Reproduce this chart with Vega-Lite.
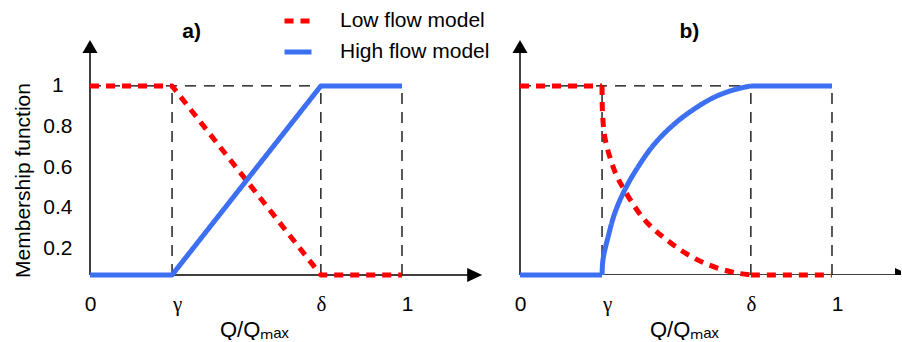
{
  "$schema": "https://vega.github.io/schema/vega-lite/v6.json",
  "padding": {"left": 12, "top": 5, "right": 0, "bottom": 0},
  "config": {"font": "Liberation Sans", "view": {"stroke": null}, "axisX": {"labelFlush": false}},
  "datasets": {
    "guides": [{"gx": 0.263}, {"gx": 0.74}, {"gx": 1}],
    "lines": [
      {"panel": "a", "series": "Low flow model", "seg": "s", "x": 0, "y": 1},
      {"panel": "a", "series": "Low flow model", "seg": "s", "x": 0.263, "y": 1},
      {"panel": "a", "series": "Low flow model", "seg": "s", "x": 0.74, "y": 0.068},
      {"panel": "a", "series": "Low flow model", "seg": "s", "x": 1, "y": 0.068},
      {"panel": "a", "series": "High flow model", "seg": "s", "x": 0, "y": 0.068},
      {"panel": "a", "series": "High flow model", "seg": "s", "x": 0.263, "y": 0.068},
      {"panel": "a", "series": "High flow model", "seg": "s", "x": 0.74, "y": 1},
      {"panel": "a", "series": "High flow model", "seg": "s", "x": 1, "y": 1},

      {"panel": "b", "series": "Low flow model", "seg": "f1", "x": 0, "y": 1},
      {"panel": "b", "series": "Low flow model", "seg": "f1", "x": 0.263, "y": 1},
      {"panel": "b", "series": "Low flow model", "seg": "c", "x": 0.263, "y": 1},
      {"panel": "b", "series": "Low flow model", "seg": "c", "x": 0.2644, "y": 0.8695},
      {"panel": "b", "series": "Low flow model", "seg": "c", "x": 0.2716, "y": 0.7493},
      {"panel": "b", "series": "Low flow model", "seg": "c", "x": 0.2878, "y": 0.6505},
      {"panel": "b", "series": "Low flow model", "seg": "c", "x": 0.3088, "y": 0.5601},
      {"panel": "b", "series": "Low flow model", "seg": "c", "x": 0.3336, "y": 0.4893},
      {"panel": "b", "series": "Low flow model", "seg": "c", "x": 0.3679, "y": 0.4044},
      {"panel": "b", "series": "Low flow model", "seg": "c", "x": 0.3999, "y": 0.3383},
      {"panel": "b", "series": "Low flow model", "seg": "c", "x": 0.4319, "y": 0.2898},
      {"panel": "b", "series": "Low flow model", "seg": "c", "x": 0.4643, "y": 0.2488},
      {"panel": "b", "series": "Low flow model", "seg": "c", "x": 0.5067, "y": 0.1994},
      {"panel": "b", "series": "Low flow model", "seg": "c", "x": 0.5497, "y": 0.1584},
      {"panel": "b", "series": "Low flow model", "seg": "c", "x": 0.5926, "y": 0.1258},
      {"panel": "b", "series": "Low flow model", "seg": "c", "x": 0.646, "y": 0.096},
      {"panel": "b", "series": "Low flow model", "seg": "c", "x": 0.6995, "y": 0.0764},
      {"panel": "b", "series": "Low flow model", "seg": "c", "x": 0.74, "y": 0.068},
      {"panel": "b", "series": "Low flow model", "seg": "f2", "x": 0.74, "y": 0.068},
      {"panel": "b", "series": "Low flow model", "seg": "f2", "x": 1, "y": 0.068},

      {"panel": "b", "series": "High flow model", "seg": "f1", "x": 0, "y": 0.068},
      {"panel": "b", "series": "High flow model", "seg": "f1", "x": 0.263, "y": 0.068},
      {"panel": "b", "series": "High flow model", "seg": "c", "x": 0.263, "y": 0.068},
      {"panel": "b", "series": "High flow model", "seg": "c", "x": 0.2644, "y": 0.119},
      {"panel": "b", "series": "High flow model", "seg": "c", "x": 0.2678, "y": 0.1612},
      {"panel": "b", "series": "High flow model", "seg": "c", "x": 0.2821, "y": 0.2544},
      {"panel": "b", "series": "High flow model", "seg": "c", "x": 0.3035, "y": 0.3718},
      {"panel": "b", "series": "High flow model", "seg": "c", "x": 0.3355, "y": 0.4865},
      {"panel": "b", "series": "High flow model", "seg": "c", "x": 0.3784, "y": 0.6011},
      {"panel": "b", "series": "High flow model", "seg": "c", "x": 0.4319, "y": 0.7157},
      {"panel": "b", "series": "High flow model", "seg": "c", "x": 0.4963, "y": 0.8145},
      {"panel": "b", "series": "High flow model", "seg": "c", "x": 0.5602, "y": 0.8882},
      {"panel": "b", "series": "High flow model", "seg": "c", "x": 0.6246, "y": 0.946},
      {"panel": "b", "series": "High flow model", "seg": "c", "x": 0.6885, "y": 0.9823},
      {"panel": "b", "series": "High flow model", "seg": "c", "x": 0.74, "y": 1},
      {"panel": "b", "series": "High flow model", "seg": "f2", "x": 0.74, "y": 1},
      {"panel": "b", "series": "High flow model", "seg": "f2", "x": 1, "y": 1}
    ]
  },
  "bounds": "flush",
  "spacing": 30,
  "resolve": {"scale": {"x": "independent", "y": "independent", "color": "independent", "strokeDash": "independent"}},
  "hconcat": [
    {
      "width": 400,
      "height": 270,
      "layer": [
        {
          "data": {"name": "guides"},
          "mark": {"type": "rule", "color": "black", "strokeWidth": 1.3, "strokeDash": [11, 8]},
          "encoding": {
            "x": {"field": "gx", "type": "quantitative", "scale": {"domain": [0, 1.2821], "nice": false, "zero": false},
              "axis": {"values": [0, 0.263, 0.74, 1], "labelExpr": "datum.value == 0 ? '0' : datum.value == 1 ? '1' : datum.value < 0.5 ? 'γ' : 'δ'",
                "labelFont": {"condition": {"test": "datum.value > 0.1 && datum.value < 0.9", "value": "Liberation Serif"}, "value": "Liberation Sans"},
                "labelOffset": {"condition": {"test": "datum.value == 0 || (datum.value > 0.7 && datum.value < 0.8)", "value": 0}, "value": 5},
                "labelFlush": false, "labelFontSize": 21, "labelColor": "black", "labelPadding": 18, "ticks": false, "tickSize": 0, "domain": false, "grid": false,
                "title": "Q/Qₘₐₓ", "titleFontSize": 22, "titleFontWeight": "normal", "titleColor": "black", "titleX": 163.8, "titleY": 61, "titleBaseline": "alphabetic", "titleAlign": "center"}},
            "y": {"datum": 0.068, "type": "quantitative", "scale": {"domain": [0.068, 1.399], "nice": false, "zero": false},
              "axis": {"values": [0.2, 0.4, 0.6, 0.8, 1], "format": "~g", "labelAlign": "center", "labelPadding": 32.7, "labelFontSize": 21, "labelColor": "black",
                "ticks": false, "tickSize": 0, "domain": false, "grid": false,
                "title": "Membership function", "titleFontSize": 21, "titleFontWeight": "normal", "titleColor": "black", "titleX": -60.7, "titleY": 175, "titleAngle": 270, "titleBaseline": "alphabetic", "titleAlign": "center"}},
            "y2": {"datum": 1}
          }
        },
        {
          "data": {"values": [{}]},
          "mark": {"type": "rule", "color": "black", "strokeWidth": 1.3, "strokeDash": [11, 8]},
          "encoding": {
            "x": {"datum": 0, "type": "quantitative", "scale": {"domain": [0, 1.2821], "nice": false, "zero": false},
              "axis": {"values": [0, 0.263, 0.74, 1], "labelExpr": "datum.value == 0 ? '0' : datum.value == 1 ? '1' : datum.value < 0.5 ? 'γ' : 'δ'",
                "labelFont": {"condition": {"test": "datum.value > 0.1 && datum.value < 0.9", "value": "Liberation Serif"}, "value": "Liberation Sans"},
                "labelOffset": {"condition": {"test": "datum.value == 0 || (datum.value > 0.7 && datum.value < 0.8)", "value": 0}, "value": 5},
                "labelFlush": false, "labelFontSize": 21, "labelColor": "black", "labelPadding": 18, "ticks": false, "tickSize": 0, "domain": false, "grid": false,
                "title": "Q/Qₘₐₓ", "titleFontSize": 22, "titleFontWeight": "normal", "titleColor": "black", "titleX": 163.8, "titleY": 61, "titleBaseline": "alphabetic", "titleAlign": "center"}},
            "x2": {"datum": 1},
            "y": {"datum": 1, "type": "quantitative", "scale": {"domain": [0.068, 1.399], "nice": false, "zero": false},
              "axis": {"values": [0.2, 0.4, 0.6, 0.8, 1], "format": "~g", "labelAlign": "center", "labelPadding": 32.7, "labelFontSize": 21, "labelColor": "black",
                "ticks": false, "tickSize": 0, "domain": false, "grid": false,
                "title": "Membership function", "titleFontSize": 21, "titleFontWeight": "normal", "titleColor": "black", "titleX": -60.7, "titleY": 175, "titleAngle": 270, "titleBaseline": "alphabetic", "titleAlign": "center"}}
          }
        },
        {
          "data": {"values": [{}]},
          "mark": {"type": "rule", "color": "black", "strokeWidth": 1.5},
          "encoding": {
            "x": {"datum": 0, "type": "quantitative", "scale": {"domain": [0, 1.2821], "nice": false, "zero": false},
              "axis": {"values": [0, 0.263, 0.74, 1], "labelExpr": "datum.value == 0 ? '0' : datum.value == 1 ? '1' : datum.value < 0.5 ? 'γ' : 'δ'",
                "labelFont": {"condition": {"test": "datum.value > 0.1 && datum.value < 0.9", "value": "Liberation Serif"}, "value": "Liberation Sans"},
                "labelOffset": {"condition": {"test": "datum.value == 0 || (datum.value > 0.7 && datum.value < 0.8)", "value": 0}, "value": 5},
                "labelFlush": false, "labelFontSize": 21, "labelColor": "black", "labelPadding": 18, "ticks": false, "tickSize": 0, "domain": false, "grid": false,
                "title": "Q/Qₘₐₓ", "titleFontSize": 22, "titleFontWeight": "normal", "titleColor": "black", "titleX": 163.8, "titleY": 61, "titleBaseline": "alphabetic", "titleAlign": "center"}},
            "x2": {"datum": 1.233},
            "y": {"datum": 0.068, "type": "quantitative", "scale": {"domain": [0.068, 1.399], "nice": false, "zero": false},
              "axis": {"values": [0.2, 0.4, 0.6, 0.8, 1], "format": "~g", "labelAlign": "center", "labelPadding": 32.7, "labelFontSize": 21, "labelColor": "black",
                "ticks": false, "tickSize": 0, "domain": false, "grid": false,
                "title": "Membership function", "titleFontSize": 21, "titleFontWeight": "normal", "titleColor": "black", "titleX": -60.7, "titleY": 175, "titleAngle": 270, "titleBaseline": "alphabetic", "titleAlign": "center"}}
          }
        },
        {
          "data": {"values": [{}]},
          "mark": {"type": "rule", "color": "black", "strokeWidth": 1.5},
          "encoding": {
            "x": {"datum": 0, "type": "quantitative", "scale": {"domain": [0, 1.2821], "nice": false, "zero": false},
              "axis": {"values": [0, 0.263, 0.74, 1], "labelExpr": "datum.value == 0 ? '0' : datum.value == 1 ? '1' : datum.value < 0.5 ? 'γ' : 'δ'",
                "labelFont": {"condition": {"test": "datum.value > 0.1 && datum.value < 0.9", "value": "Liberation Serif"}, "value": "Liberation Sans"},
                "labelOffset": {"condition": {"test": "datum.value == 0 || (datum.value > 0.7 && datum.value < 0.8)", "value": 0}, "value": 5},
                "labelFlush": false, "labelFontSize": 21, "labelColor": "black", "labelPadding": 18, "ticks": false, "tickSize": 0, "domain": false, "grid": false,
                "title": "Q/Qₘₐₓ", "titleFontSize": 22, "titleFontWeight": "normal", "titleColor": "black", "titleX": 163.8, "titleY": 61, "titleBaseline": "alphabetic", "titleAlign": "center"}},
            "y": {"datum": 0.068, "type": "quantitative", "scale": {"domain": [0.068, 1.399], "nice": false, "zero": false},
              "axis": {"values": [0.2, 0.4, 0.6, 0.8, 1], "format": "~g", "labelAlign": "center", "labelPadding": 32.7, "labelFontSize": 21, "labelColor": "black",
                "ticks": false, "tickSize": 0, "domain": false, "grid": false,
                "title": "Membership function", "titleFontSize": 21, "titleFontWeight": "normal", "titleColor": "black", "titleX": -60.7, "titleY": 175, "titleAngle": 270, "titleBaseline": "alphabetic", "titleAlign": "center"}},
            "y2": {"datum": 1.1945}
          }
        },
        {
          "data": {"values": [{}]},
          "mark": {"type": "point", "filled": true, "color": "black", "opacity": 1, "size": 225, "strokeWidth": 0, "shape": "M1,0L-1,-0.93L-1,0.93Z"},
          "encoding": {
            "x": {"datum": 1.233, "type": "quantitative", "scale": {"domain": [0, 1.2821], "nice": false, "zero": false},
              "axis": {"values": [0, 0.263, 0.74, 1], "labelExpr": "datum.value == 0 ? '0' : datum.value == 1 ? '1' : datum.value < 0.5 ? 'γ' : 'δ'",
                "labelFont": {"condition": {"test": "datum.value > 0.1 && datum.value < 0.9", "value": "Liberation Serif"}, "value": "Liberation Sans"},
                "labelOffset": {"condition": {"test": "datum.value == 0 || (datum.value > 0.7 && datum.value < 0.8)", "value": 0}, "value": 5},
                "labelFlush": false, "labelFontSize": 21, "labelColor": "black", "labelPadding": 18, "ticks": false, "tickSize": 0, "domain": false, "grid": false,
                "title": "Q/Qₘₐₓ", "titleFontSize": 22, "titleFontWeight": "normal", "titleColor": "black", "titleX": 163.8, "titleY": 61, "titleBaseline": "alphabetic", "titleAlign": "center"}},
            "y": {"datum": 0.068, "type": "quantitative", "scale": {"domain": [0.068, 1.399], "nice": false, "zero": false},
              "axis": {"values": [0.2, 0.4, 0.6, 0.8, 1], "format": "~g", "labelAlign": "center", "labelPadding": 32.7, "labelFontSize": 21, "labelColor": "black",
                "ticks": false, "tickSize": 0, "domain": false, "grid": false,
                "title": "Membership function", "titleFontSize": 21, "titleFontWeight": "normal", "titleColor": "black", "titleX": -60.7, "titleY": 175, "titleAngle": 270, "titleBaseline": "alphabetic", "titleAlign": "center"}}
          }
        },
        {
          "data": {"values": [{}]},
          "mark": {"type": "point", "filled": true, "color": "black", "opacity": 1, "size": 225, "strokeWidth": 0, "shape": "M0,-0.87L1,0.87L-1,0.87Z"},
          "encoding": {
            "x": {"datum": 0, "type": "quantitative", "scale": {"domain": [0, 1.2821], "nice": false, "zero": false},
              "axis": {"values": [0, 0.263, 0.74, 1], "labelExpr": "datum.value == 0 ? '0' : datum.value == 1 ? '1' : datum.value < 0.5 ? 'γ' : 'δ'",
                "labelFont": {"condition": {"test": "datum.value > 0.1 && datum.value < 0.9", "value": "Liberation Serif"}, "value": "Liberation Sans"},
                "labelOffset": {"condition": {"test": "datum.value == 0 || (datum.value > 0.7 && datum.value < 0.8)", "value": 0}, "value": 5},
                "labelFlush": false, "labelFontSize": 21, "labelColor": "black", "labelPadding": 18, "ticks": false, "tickSize": 0, "domain": false, "grid": false,
                "title": "Q/Qₘₐₓ", "titleFontSize": 22, "titleFontWeight": "normal", "titleColor": "black", "titleX": 163.8, "titleY": 61, "titleBaseline": "alphabetic", "titleAlign": "center"}},
            "y": {"datum": 1.1945, "type": "quantitative", "scale": {"domain": [0.068, 1.399], "nice": false, "zero": false},
              "axis": {"values": [0.2, 0.4, 0.6, 0.8, 1], "format": "~g", "labelAlign": "center", "labelPadding": 32.7, "labelFontSize": 21, "labelColor": "black",
                "ticks": false, "tickSize": 0, "domain": false, "grid": false,
                "title": "Membership function", "titleFontSize": 21, "titleFontWeight": "normal", "titleColor": "black", "titleX": -60.7, "titleY": 175, "titleAngle": 270, "titleBaseline": "alphabetic", "titleAlign": "center"}}
          }
        },
        {
          "data": {"name": "lines"},
          "transform": [{"filter": "datum.panel == 'a' && datum.series == 'Low flow model'"}],
          "mark": {"type": "line", "strokeWidth": 5, "strokeCap": "butt", "strokeJoin": "round"},
          "encoding": {
            "x": {"field": "x", "type": "quantitative", "scale": {"domain": [0, 1.2821], "nice": false, "zero": false},
              "axis": {"values": [0, 0.263, 0.74, 1], "labelExpr": "datum.value == 0 ? '0' : datum.value == 1 ? '1' : datum.value < 0.5 ? 'γ' : 'δ'",
                "labelFont": {"condition": {"test": "datum.value > 0.1 && datum.value < 0.9", "value": "Liberation Serif"}, "value": "Liberation Sans"},
                "labelOffset": {"condition": {"test": "datum.value == 0 || (datum.value > 0.7 && datum.value < 0.8)", "value": 0}, "value": 5},
                "labelFlush": false, "labelFontSize": 21, "labelColor": "black", "labelPadding": 18, "ticks": false, "tickSize": 0, "domain": false, "grid": false,
                "title": "Q/Qₘₐₓ", "titleFontSize": 22, "titleFontWeight": "normal", "titleColor": "black", "titleX": 163.8, "titleY": 61, "titleBaseline": "alphabetic", "titleAlign": "center"}},
            "y": {"field": "y", "type": "quantitative", "scale": {"domain": [0.068, 1.399], "nice": false, "zero": false},
              "axis": {"values": [0.2, 0.4, 0.6, 0.8, 1], "format": "~g", "labelAlign": "center", "labelPadding": 32.7, "labelFontSize": 21, "labelColor": "black",
                "ticks": false, "tickSize": 0, "domain": false, "grid": false,
                "title": "Membership function", "titleFontSize": 21, "titleFontWeight": "normal", "titleColor": "black", "titleX": -60.7, "titleY": 175, "titleAngle": 270, "titleBaseline": "alphabetic", "titleAlign": "center"}},
            "color": {"field": "series", "type": "nominal", "scale": {"domain": ["Low flow model", "High flow model"], "range": ["#ff0000", "#3d6ff2"]},
              "legend": {"title": null, "orient": "none", "legendX": 192, "legendY": 0, "symbolType": "stroke", "symbolSize": 729, "symbolStrokeWidth": 5, "labelFontSize": 21, "labelColor": "black", "labelOffset": 26, "rowPadding": 5, "padding": 0, "labelLimit": 300}},
            "strokeDash": {"field": "series", "type": "nominal", "scale": {"domain": ["Low flow model", "High flow model"], "range": [[9, 7], [1, 0]]},
              "legend": {"title": null, "orient": "none", "legendX": 192, "legendY": 0, "symbolType": "stroke", "symbolSize": 729, "symbolStrokeWidth": 5, "labelFontSize": 21, "labelColor": "black", "labelOffset": 26, "rowPadding": 5, "padding": 0, "labelLimit": 300}}
          }
        },
        {
          "data": {"name": "lines"},
          "transform": [{"filter": "datum.panel == 'a' && datum.series == 'High flow model'"}],
          "mark": {"type": "line", "strokeWidth": 5, "strokeCap": "butt", "strokeJoin": "round"},
          "encoding": {
            "x": {"field": "x", "type": "quantitative", "scale": {"domain": [0, 1.2821], "nice": false, "zero": false},
              "axis": {"values": [0, 0.263, 0.74, 1], "labelExpr": "datum.value == 0 ? '0' : datum.value == 1 ? '1' : datum.value < 0.5 ? 'γ' : 'δ'",
                "labelFont": {"condition": {"test": "datum.value > 0.1 && datum.value < 0.9", "value": "Liberation Serif"}, "value": "Liberation Sans"},
                "labelOffset": {"condition": {"test": "datum.value == 0 || (datum.value > 0.7 && datum.value < 0.8)", "value": 0}, "value": 5},
                "labelFlush": false, "labelFontSize": 21, "labelColor": "black", "labelPadding": 18, "ticks": false, "tickSize": 0, "domain": false, "grid": false,
                "title": "Q/Qₘₐₓ", "titleFontSize": 22, "titleFontWeight": "normal", "titleColor": "black", "titleX": 163.8, "titleY": 61, "titleBaseline": "alphabetic", "titleAlign": "center"}},
            "y": {"field": "y", "type": "quantitative", "scale": {"domain": [0.068, 1.399], "nice": false, "zero": false},
              "axis": {"values": [0.2, 0.4, 0.6, 0.8, 1], "format": "~g", "labelAlign": "center", "labelPadding": 32.7, "labelFontSize": 21, "labelColor": "black",
                "ticks": false, "tickSize": 0, "domain": false, "grid": false,
                "title": "Membership function", "titleFontSize": 21, "titleFontWeight": "normal", "titleColor": "black", "titleX": -60.7, "titleY": 175, "titleAngle": 270, "titleBaseline": "alphabetic", "titleAlign": "center"}},
            "color": {"field": "series", "type": "nominal", "scale": {"domain": ["Low flow model", "High flow model"], "range": ["#ff0000", "#3d6ff2"]},
              "legend": {"title": null, "orient": "none", "legendX": 192, "legendY": 0, "symbolType": "stroke", "symbolSize": 729, "symbolStrokeWidth": 5, "labelFontSize": 21, "labelColor": "black", "labelOffset": 26, "rowPadding": 5, "padding": 0, "labelLimit": 300}},
            "strokeDash": {"field": "series", "type": "nominal", "scale": {"domain": ["Low flow model", "High flow model"], "range": [[9, 7], [1, 0]]},
              "legend": {"title": null, "orient": "none", "legendX": 192, "legendY": 0, "symbolType": "stroke", "symbolSize": 729, "symbolStrokeWidth": 5, "labelFontSize": 21, "labelColor": "black", "labelOffset": 26, "rowPadding": 5, "padding": 0, "labelLimit": 300}}
          }
        },
        {
          "data": {"values": [{}]},
          "mark": {"type": "text", "text": "a)", "fontSize": 21, "fontWeight": "bold", "color": "black", "align": "center", "baseline": "alphabetic"},
          "encoding": {
            "x": {"datum": 0.326, "type": "quantitative", "scale": {"domain": [0, 1.2821], "nice": false, "zero": false},
              "axis": {"values": [0, 0.263, 0.74, 1], "labelExpr": "datum.value == 0 ? '0' : datum.value == 1 ? '1' : datum.value < 0.5 ? 'γ' : 'δ'",
                "labelFont": {"condition": {"test": "datum.value > 0.1 && datum.value < 0.9", "value": "Liberation Serif"}, "value": "Liberation Sans"},
                "labelOffset": {"condition": {"test": "datum.value == 0 || (datum.value > 0.7 && datum.value < 0.8)", "value": 0}, "value": 5},
                "labelFlush": false, "labelFontSize": 21, "labelColor": "black", "labelPadding": 18, "ticks": false, "tickSize": 0, "domain": false, "grid": false,
                "title": "Q/Qₘₐₓ", "titleFontSize": 22, "titleFontWeight": "normal", "titleColor": "black", "titleX": 163.8, "titleY": 61, "titleBaseline": "alphabetic", "titleAlign": "center"}},
            "y": {"datum": 1.236, "type": "quantitative", "scale": {"domain": [0.068, 1.399], "nice": false, "zero": false},
              "axis": {"values": [0.2, 0.4, 0.6, 0.8, 1], "format": "~g", "labelAlign": "center", "labelPadding": 32.7, "labelFontSize": 21, "labelColor": "black",
                "ticks": false, "tickSize": 0, "domain": false, "grid": false,
                "title": "Membership function", "titleFontSize": 21, "titleFontWeight": "normal", "titleColor": "black", "titleX": -60.7, "titleY": 175, "titleAngle": 270, "titleBaseline": "alphabetic", "titleAlign": "center"}}
          }
        }
      ]
    },
    {
      "width": 381,
      "height": 270,
      "layer": [
        {
          "data": {"name": "guides"},
          "mark": {"type": "rule", "color": "black", "strokeWidth": 1.3, "strokeDash": [11, 8]},
          "encoding": {
            "x": {"field": "gx", "type": "quantitative", "scale": {"domain": [0, 1.2212], "nice": false, "zero": false},
              "axis": {"values": [0, 0.263, 0.74, 1], "labelExpr": "datum.value == 0 ? '0' : datum.value == 1 ? '1' : datum.value < 0.5 ? 'γ' : 'δ'",
                "labelFont": {"condition": {"test": "datum.value > 0.1 && datum.value < 0.9", "value": "Liberation Serif"}, "value": "Liberation Sans"},
                "labelOffset": {"condition": {"test": "datum.value == 0 || (datum.value > 0.7 && datum.value < 0.8)", "value": 0}, "value": 5},
                "labelFlush": false, "labelFontSize": 21, "labelColor": "black", "labelPadding": 18, "ticks": false, "tickSize": 0, "domain": false, "grid": false,
                "title": "Q/Qₘₐₓ", "titleFontSize": 22, "titleFontWeight": "normal", "titleColor": "black", "titleX": 163.8, "titleY": 61, "titleBaseline": "alphabetic", "titleAlign": "center"}},
            "y": {"datum": 0.068, "type": "quantitative", "scale": {"domain": [0.068, 1.399], "nice": false, "zero": false}, "axis": null},
            "y2": {"datum": 1}
          }
        },
        {
          "data": {"values": [{}]},
          "mark": {"type": "rule", "color": "black", "strokeWidth": 1.3, "strokeDash": [11, 8]},
          "encoding": {
            "x": {"datum": 0, "type": "quantitative", "scale": {"domain": [0, 1.2212], "nice": false, "zero": false},
              "axis": {"values": [0, 0.263, 0.74, 1], "labelExpr": "datum.value == 0 ? '0' : datum.value == 1 ? '1' : datum.value < 0.5 ? 'γ' : 'δ'",
                "labelFont": {"condition": {"test": "datum.value > 0.1 && datum.value < 0.9", "value": "Liberation Serif"}, "value": "Liberation Sans"},
                "labelOffset": {"condition": {"test": "datum.value == 0 || (datum.value > 0.7 && datum.value < 0.8)", "value": 0}, "value": 5},
                "labelFlush": false, "labelFontSize": 21, "labelColor": "black", "labelPadding": 18, "ticks": false, "tickSize": 0, "domain": false, "grid": false,
                "title": "Q/Qₘₐₓ", "titleFontSize": 22, "titleFontWeight": "normal", "titleColor": "black", "titleX": 163.8, "titleY": 61, "titleBaseline": "alphabetic", "titleAlign": "center"}},
            "x2": {"datum": 1},
            "y": {"datum": 1, "type": "quantitative", "scale": {"domain": [0.068, 1.399], "nice": false, "zero": false}, "axis": null}
          }
        },
        {
          "data": {"values": [{}]},
          "mark": {"type": "rule", "color": "black", "strokeWidth": 1.5, "clip": true},
          "encoding": {
            "x": {"datum": 0, "type": "quantitative", "scale": {"domain": [0, 1.2212], "nice": false, "zero": false},
              "axis": {"values": [0, 0.263, 0.74, 1], "labelExpr": "datum.value == 0 ? '0' : datum.value == 1 ? '1' : datum.value < 0.5 ? 'γ' : 'δ'",
                "labelFont": {"condition": {"test": "datum.value > 0.1 && datum.value < 0.9", "value": "Liberation Serif"}, "value": "Liberation Sans"},
                "labelOffset": {"condition": {"test": "datum.value == 0 || (datum.value > 0.7 && datum.value < 0.8)", "value": 0}, "value": 5},
                "labelFlush": false, "labelFontSize": 21, "labelColor": "black", "labelPadding": 18, "ticks": false, "tickSize": 0, "domain": false, "grid": false,
                "title": "Q/Qₘₐₓ", "titleFontSize": 22, "titleFontWeight": "normal", "titleColor": "black", "titleX": 163.8, "titleY": 61, "titleBaseline": "alphabetic", "titleAlign": "center"}},
            "x2": {"datum": 1.2336},
            "y": {"datum": 0.068, "type": "quantitative", "scale": {"domain": [0.068, 1.399], "nice": false, "zero": false}, "axis": null}
          }
        },
        {
          "data": {"values": [{}]},
          "mark": {"type": "rule", "color": "black", "strokeWidth": 1.5},
          "encoding": {
            "x": {"datum": 0, "type": "quantitative", "scale": {"domain": [0, 1.2212], "nice": false, "zero": false},
              "axis": {"values": [0, 0.263, 0.74, 1], "labelExpr": "datum.value == 0 ? '0' : datum.value == 1 ? '1' : datum.value < 0.5 ? 'γ' : 'δ'",
                "labelFont": {"condition": {"test": "datum.value > 0.1 && datum.value < 0.9", "value": "Liberation Serif"}, "value": "Liberation Sans"},
                "labelOffset": {"condition": {"test": "datum.value == 0 || (datum.value > 0.7 && datum.value < 0.8)", "value": 0}, "value": 5},
                "labelFlush": false, "labelFontSize": 21, "labelColor": "black", "labelPadding": 18, "ticks": false, "tickSize": 0, "domain": false, "grid": false,
                "title": "Q/Qₘₐₓ", "titleFontSize": 22, "titleFontWeight": "normal", "titleColor": "black", "titleX": 163.8, "titleY": 61, "titleBaseline": "alphabetic", "titleAlign": "center"}},
            "y": {"datum": 0.068, "type": "quantitative", "scale": {"domain": [0.068, 1.399], "nice": false, "zero": false}, "axis": null},
            "y2": {"datum": 1.1945}
          }
        },
        {
          "data": {"values": [{}]},
          "mark": {"type": "point", "filled": true, "color": "black", "opacity": 1, "size": 225, "strokeWidth": 0, "clip": true, "shape": "M1,0L-1,-0.93L-1,0.93Z"},
          "encoding": {
            "x": {"datum": 1.226, "type": "quantitative", "scale": {"domain": [0, 1.2212], "nice": false, "zero": false},
              "axis": {"values": [0, 0.263, 0.74, 1], "labelExpr": "datum.value == 0 ? '0' : datum.value == 1 ? '1' : datum.value < 0.5 ? 'γ' : 'δ'",
                "labelFont": {"condition": {"test": "datum.value > 0.1 && datum.value < 0.9", "value": "Liberation Serif"}, "value": "Liberation Sans"},
                "labelOffset": {"condition": {"test": "datum.value == 0 || (datum.value > 0.7 && datum.value < 0.8)", "value": 0}, "value": 5},
                "labelFlush": false, "labelFontSize": 21, "labelColor": "black", "labelPadding": 18, "ticks": false, "tickSize": 0, "domain": false, "grid": false,
                "title": "Q/Qₘₐₓ", "titleFontSize": 22, "titleFontWeight": "normal", "titleColor": "black", "titleX": 163.8, "titleY": 61, "titleBaseline": "alphabetic", "titleAlign": "center"}},
            "y": {"datum": 0.068, "type": "quantitative", "scale": {"domain": [0.068, 1.399], "nice": false, "zero": false}, "axis": null}
          }
        },
        {
          "data": {"values": [{}]},
          "mark": {"type": "point", "filled": true, "color": "black", "opacity": 1, "size": 225, "strokeWidth": 0, "shape": "M0,-0.87L1,0.87L-1,0.87Z"},
          "encoding": {
            "x": {"datum": 0, "type": "quantitative", "scale": {"domain": [0, 1.2212], "nice": false, "zero": false},
              "axis": {"values": [0, 0.263, 0.74, 1], "labelExpr": "datum.value == 0 ? '0' : datum.value == 1 ? '1' : datum.value < 0.5 ? 'γ' : 'δ'",
                "labelFont": {"condition": {"test": "datum.value > 0.1 && datum.value < 0.9", "value": "Liberation Serif"}, "value": "Liberation Sans"},
                "labelOffset": {"condition": {"test": "datum.value == 0 || (datum.value > 0.7 && datum.value < 0.8)", "value": 0}, "value": 5},
                "labelFlush": false, "labelFontSize": 21, "labelColor": "black", "labelPadding": 18, "ticks": false, "tickSize": 0, "domain": false, "grid": false,
                "title": "Q/Qₘₐₓ", "titleFontSize": 22, "titleFontWeight": "normal", "titleColor": "black", "titleX": 163.8, "titleY": 61, "titleBaseline": "alphabetic", "titleAlign": "center"}},
            "y": {"datum": 1.1945, "type": "quantitative", "scale": {"domain": [0.068, 1.399], "nice": false, "zero": false}, "axis": null}
          }
        },
        {
          "data": {"name": "lines"},
          "transform": [{"filter": "datum.panel == 'b' && datum.series == 'Low flow model'"}],
          "mark": {"type": "line", "strokeWidth": 5, "strokeCap": "butt", "strokeJoin": "round", "interpolate": "catmull-rom"},
          "encoding": {
            "x": {"field": "x", "type": "quantitative", "scale": {"domain": [0, 1.2212], "nice": false, "zero": false},
              "axis": {"values": [0, 0.263, 0.74, 1], "labelExpr": "datum.value == 0 ? '0' : datum.value == 1 ? '1' : datum.value < 0.5 ? 'γ' : 'δ'",
                "labelFont": {"condition": {"test": "datum.value > 0.1 && datum.value < 0.9", "value": "Liberation Serif"}, "value": "Liberation Sans"},
                "labelOffset": {"condition": {"test": "datum.value == 0 || (datum.value > 0.7 && datum.value < 0.8)", "value": 0}, "value": 5},
                "labelFlush": false, "labelFontSize": 21, "labelColor": "black", "labelPadding": 18, "ticks": false, "tickSize": 0, "domain": false, "grid": false,
                "title": "Q/Qₘₐₓ", "titleFontSize": 22, "titleFontWeight": "normal", "titleColor": "black", "titleX": 163.8, "titleY": 61, "titleBaseline": "alphabetic", "titleAlign": "center"}},
            "y": {"field": "y", "type": "quantitative", "scale": {"domain": [0.068, 1.399], "nice": false, "zero": false}, "axis": null},
            "detail": {"field": "seg", "type": "nominal"},
            "color": {"field": "series", "type": "nominal", "scale": {"domain": ["Low flow model", "High flow model"], "range": ["#ff0000", "#3d6ff2"]}, "legend": null},
            "strokeDash": {"field": "series", "type": "nominal", "scale": {"domain": ["Low flow model", "High flow model"], "range": [[9, 7], [1, 0]]}, "legend": null}
          }
        },
        {
          "data": {"name": "lines"},
          "transform": [{"filter": "datum.panel == 'b' && datum.series == 'High flow model'"}],
          "mark": {"type": "line", "strokeWidth": 5, "strokeCap": "butt", "strokeJoin": "round", "interpolate": "catmull-rom"},
          "encoding": {
            "x": {"field": "x", "type": "quantitative", "scale": {"domain": [0, 1.2212], "nice": false, "zero": false},
              "axis": {"values": [0, 0.263, 0.74, 1], "labelExpr": "datum.value == 0 ? '0' : datum.value == 1 ? '1' : datum.value < 0.5 ? 'γ' : 'δ'",
                "labelFont": {"condition": {"test": "datum.value > 0.1 && datum.value < 0.9", "value": "Liberation Serif"}, "value": "Liberation Sans"},
                "labelOffset": {"condition": {"test": "datum.value == 0 || (datum.value > 0.7 && datum.value < 0.8)", "value": 0}, "value": 5},
                "labelFlush": false, "labelFontSize": 21, "labelColor": "black", "labelPadding": 18, "ticks": false, "tickSize": 0, "domain": false, "grid": false,
                "title": "Q/Qₘₐₓ", "titleFontSize": 22, "titleFontWeight": "normal", "titleColor": "black", "titleX": 163.8, "titleY": 61, "titleBaseline": "alphabetic", "titleAlign": "center"}},
            "y": {"field": "y", "type": "quantitative", "scale": {"domain": [0.068, 1.399], "nice": false, "zero": false}, "axis": null},
            "detail": {"field": "seg", "type": "nominal"},
            "color": {"field": "series", "type": "nominal", "scale": {"domain": ["Low flow model", "High flow model"], "range": ["#ff0000", "#3d6ff2"]}, "legend": null},
            "strokeDash": {"field": "series", "type": "nominal", "scale": {"domain": ["Low flow model", "High flow model"], "range": [[9, 7], [1, 0]]}, "legend": null}
          }
        },
        {
          "data": {"values": [{}]},
          "mark": {"type": "text", "text": "b)", "fontSize": 21, "fontWeight": "bold", "color": "black", "align": "center", "baseline": "alphabetic"},
          "encoding": {
            "x": {"datum": 0.5426, "type": "quantitative", "scale": {"domain": [0, 1.2212], "nice": false, "zero": false},
              "axis": {"values": [0, 0.263, 0.74, 1], "labelExpr": "datum.value == 0 ? '0' : datum.value == 1 ? '1' : datum.value < 0.5 ? 'γ' : 'δ'",
                "labelFont": {"condition": {"test": "datum.value > 0.1 && datum.value < 0.9", "value": "Liberation Serif"}, "value": "Liberation Sans"},
                "labelOffset": {"condition": {"test": "datum.value == 0 || (datum.value > 0.7 && datum.value < 0.8)", "value": 0}, "value": 5},
                "labelFlush": false, "labelFontSize": 21, "labelColor": "black", "labelPadding": 18, "ticks": false, "tickSize": 0, "domain": false, "grid": false,
                "title": "Q/Qₘₐₓ", "titleFontSize": 22, "titleFontWeight": "normal", "titleColor": "black", "titleX": 163.8, "titleY": 61, "titleBaseline": "alphabetic", "titleAlign": "center"}},
            "y": {"datum": 1.236, "type": "quantitative", "scale": {"domain": [0.068, 1.399], "nice": false, "zero": false}, "axis": null}
          }
        }
      ]
    }
  ]
}
